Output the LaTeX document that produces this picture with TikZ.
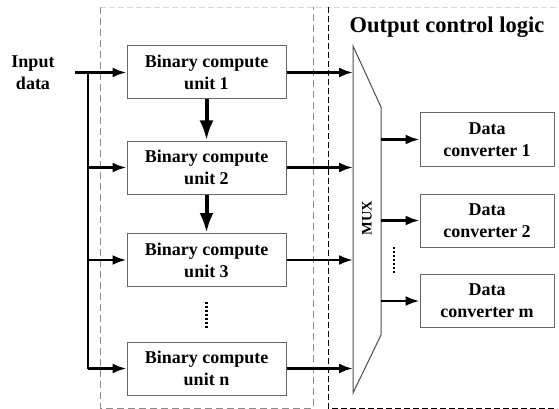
\documentclass[tikz,border=0pt]{standalone}
\usepackage{fontspec}
\setmainfont{Liberation Serif}
\usetikzlibrary{arrows.meta,calc}

\begin{document}
\begin{tikzpicture}[x=1pt,y=-1pt,
  unitbox/.style={draw=black!60, line width=1pt, minimum width=159pt, minimum height=53pt,
    align=center, inner sep=0pt, font=\bfseries\fontsize{18}{22}\selectfont},
  convbox/.style={unitbox, minimum width=134pt},
  arr/.style={line width=2.6pt, -{Latex[length=14pt,width=10pt]}},
  downarr/.style={line width=4pt, -{Latex[length=20pt,width=14pt]}},
  feed/.style={line width=2.6pt},
  dotcol/.style={line width=2.2pt, dash pattern=on 2pt off 2pt},
  regiongray/.style={draw=black!45, line width=0.9pt, dash pattern=on 7pt off 4pt},
  regionblack/.style={draw=black, line width=0.8pt, dash pattern=on 6pt off 3pt},
  lbl/.style={align=center, font=\bfseries\fontsize{18}{22}\selectfont}
]
\useasboundingbox (0,0) rectangle (559,409);

% dashed region outlines
\draw[draw=black!15, line width=0.6pt, dash pattern=on 6pt off 3pt] (100,7) -- (559,7);
\draw[regiongray] (100,7) -- (100,408) -- (313,408) -- (313,7);
\draw[regionblack] (328,7) -- (328,408) -- (557,408);

% compute units
\node[unitbox] (b1) at (206.5,72.5) {Binary compute\\unit 1};
\node[unitbox] (b2) at (206.5,167.5) {Binary compute\\unit 2};
\node[unitbox] (b3) at (206.5,260) {Binary compute\\unit 3};
\node[unitbox] (bn) at (206.5,368.5) {Binary compute\\unit n};

% input
\node[lbl] (in) at (33,73) {Input\\data};
\coordinate (inS) at (75,72.5);
\coordinate (bus) at (88,72.5);
\draw[arr] (inS) -- (b1.west);
\draw[feed] (bus) -- (bus |- bn.west);
\draw[arr] (bus |- b2.west) -- (b2.west);
\draw[arr] (bus |- b3.west) -- (b3.west);
\draw[arr] (bus |- bn.west) -- (bn.west);

% chained units
\draw[downarr] (b1.south) -- (b2.north);
\draw[downarr] (b2.south) -- (b3.north);
\draw[dotcol] (206.5,302) -- (206.5,329);

% multiplexer
\coordinate (mA) at (353,46);
\coordinate (mB) at (381,107);
\coordinate (mC) at (381,335);
\coordinate (mD) at (353,393);
\draw[black!70, line width=1pt] (mA) -- (mB) -- (mC) -- (mD) -- cycle;
\node[rotate=90, font=\bfseries\fontsize{14.5}{16}\selectfont] (mux) at (367,218) {MUX};

\draw[arr] (b1.east) -- (b1.east -| mA);
\draw[arr] (b2.east) -- (b2.east -| mA);
\draw[arr] (b3.east) -- (b3.east -| mA);
\draw[arr] (bn.east) -- (bn.east -| mA);

% output side
\node[font=\bfseries\fontsize{22.5}{26}\selectfont] (title) at (447,27) {Output control logic};
\node[convbox] (c1) at (487,139.5) {Data\\converter 1};
\node[convbox] (c2) at (487,220.5) {Data\\converter 2};
\node[convbox] (cm) at (487,301) {Data\\converter m};

\draw[arr] (c1.west -| mB) -- (c1.west);
\draw[arr] (c2.west -| mB) -- (c2.west);
\draw[arr] (cm.west -| mB) -- (cm.west);
\draw[dotcol] (394,247) -- (394,274);
\end{tikzpicture}
\end{document}
